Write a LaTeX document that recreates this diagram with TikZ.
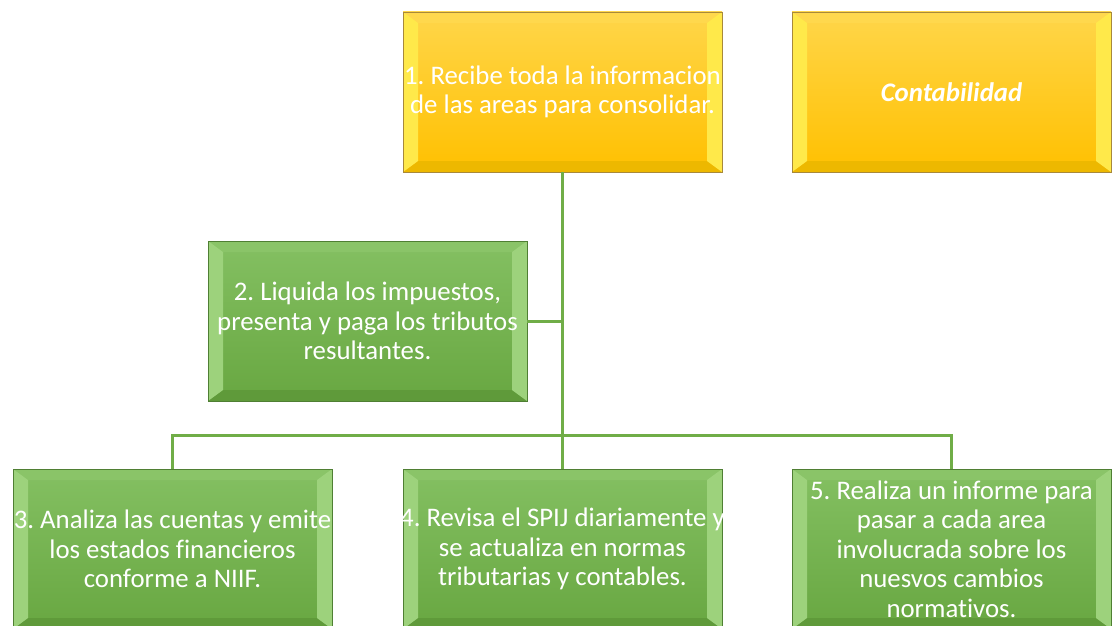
\documentclass[tikz,border=0pt]{standalone}
\usepackage{fontspec}
\setmainfont[Ligatures=NoCommon]{Carlito}
\usepackage{tikz}
\usetikzlibrary{positioning,calc}
\frenchspacing

\definecolor{goldtop}{HTML}{FFD64A}
\definecolor{goldbot}{HTML}{FFC000}
\definecolor{goldside}{HTML}{FFE94A}
\definecolor{goldcap}{HTML}{FFD84D}
\definecolor{goldbase}{HTML}{EDB800}
\definecolor{goldedge}{HTML}{A8893A}
\definecolor{leaftop}{HTML}{84C062}
\definecolor{leafbot}{HTML}{68A741}
\definecolor{leafside}{HTML}{9DD27C}
\definecolor{leafcap}{HTML}{8AC468}
\definecolor{leafbase}{HTML}{5F9A3A}
\definecolor{leafedge}{HTML}{4F7F33}
\definecolor{leafline}{HTML}{70AD47}

% bevelled faces drawn inside a box
\newcommand{\bevels}[1]{%
  \coordinate (bsw) at (path picture bounding box.south west);
  \coordinate (bnw) at (path picture bounding box.north west);
  \coordinate (bne) at (path picture bounding box.north east);
  \coordinate (bse) at (path picture bounding box.south east);
  \coordinate (isw) at ([xshift=15pt,yshift=11pt]bsw);
  \coordinate (inw) at ([xshift=15pt,yshift=-11pt]bnw);
  \coordinate (ine) at ([xshift=-15pt,yshift=-11pt]bne);
  \coordinate (ise) at ([xshift=-15pt,yshift=11pt]bse);
  \fill[#1cap] (bnw) -- (bne) -- (ine) -- (inw) -- cycle;
  \fill[#1base] (bsw) -- (bse) -- (ise) -- (isw) -- cycle;
  \fill[#1side] (bsw) -- (bnw) -- (inw) -- (isw) -- cycle;
  \fill[#1side] (bse) -- (bne) -- (ine) -- (ise) -- cycle;
}

\begin{document}
\begin{tikzpicture}[
  x=1pt, y=-1pt,
  bevelbox/.style={
    draw=#1edge,
    line width=0.8pt,
    top color=#1top,
    bottom color=#1bot,
    path picture={\bevels{#1}},
    minimum width=319pt,
    minimum height=160pt,
    inner xsep=-5pt,
    inner ysep=2pt,
    align=center,
    text=white,
    font=\fontsize{26.8}{29.5}\selectfont
  },
  goldbox/.style={bevelbox=gold},
  leafbox/.style={bevelbox=leaf},
  link/.style={draw=leafline, line width=3pt}
]
  \useasboundingbox (0,0) rectangle (1112,626);

  \node[goldbox] (recibe) at (562.5,92)
    {1. Recibe toda la informacion\\ de las areas para consolidar.};
  \node[goldbox] (conta) at (951.5,92)
    {\textbf{\textit{Contabilidad}}};

  \node[leafbox] (liquida) at (367.5,321)
    {2. Liquida los impuestos,\\ presenta y paga los tributos\\ resultantes.};

  \node[leafbox] (analiza) at (172.5,549)
    {3. Analiza las cuentas y emite\\ los estados financieros\\ conforme a NIIF.};
  \node[leafbox] (revisa) at (562.5,549)
    {4. Revisa el SPIJ diariamente y\\ se actualiza en normas\\ tributarias y contables.};
  \node[leafbox] (realiza) at (951.5,549)
    {5. Realiza un informe para\\ pasar a cada area\\ involucrada sobre los\\ nuesvos cambios\\ normativos.};

  \coordinate (hub) at (562.5,435);

  \draw[link] (recibe.south) -- (hub);
  \draw[link] (liquida.east) -- (liquida.east -| recibe.south);
  \draw[link] (analiza.north) |- (hub) -| (realiza.north);
  \draw[link] (hub) -- (revisa.north);
\end{tikzpicture}
\end{document}
